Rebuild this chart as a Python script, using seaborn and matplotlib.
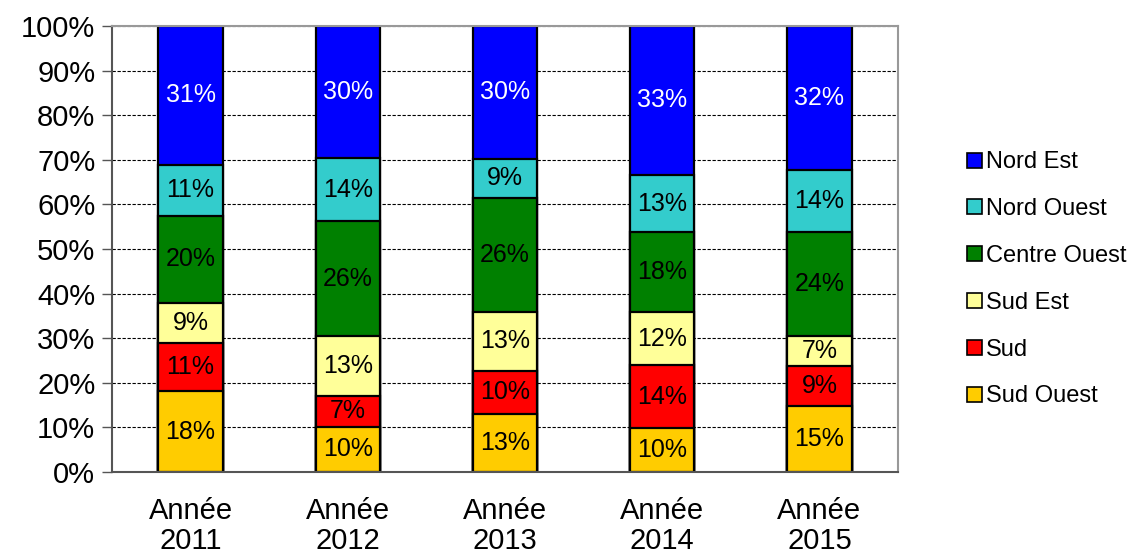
import matplotlib
matplotlib.use("Agg")
import matplotlib.pyplot as plt
from matplotlib.patches import Patch
import numpy as np
import pandas as pd
import seaborn as sns

years = ["Année\n2011", "Année\n2012", "Année\n2013", "Année\n2014", "Année\n2015"]

# bottom to top of each stack
regions = ["Sud Ouest", "Sud", "Sud Est", "Centre Ouest", "Nord Ouest", "Nord Est"]
sud_ouest = [18.1, 10.2, 13.1, 9.8, 14.9]
sud = [10.8, 6.8, 9.6, 14.1, 8.8]
sud_est = [9.0, 13.4, 13.2, 11.9, 6.7]
centre_ouest = [19.6, 25.8, 25.6, 17.9, 23.5]
nord_ouest = [11.4, 14.2, 8.7, 12.9, 13.8]
nord_est = [31.1, 29.6, 29.8, 33.4, 32.3]

colors = ["#FFCC00", "#FF0000", "#FFFF99", "#008000", "#33CCCC", "#0000FF"]
text_colors = ["black", "black", "black", "black", "black", "white"]

series = [sud_ouest, sud, sud_est, centre_ouest, nord_ouest, nord_est]
df = pd.DataFrame(dict(zip(regions, series)), index=years)
cum = df.cumsum(axis=1)

sns.set_style("white")
plt.rcParams["font.family"] = ["Liberation Sans", "DejaVu Sans"]
plt.rcParams["text.color"] = "black"
plt.rcParams["xtick.color"] = "black"
plt.rcParams["ytick.color"] = "black"

fig = plt.figure(figsize=(11.4, 5.56), dpi=100)
ax = fig.add_axes([112 / 1140, 84 / 556, 786 / 1140, 446 / 556])

# dashed grid behind the bars
ax.set_axisbelow(True)
ax.yaxis.grid(True, color="black", linestyle=(0, (3, 1.5)), linewidth=0.8)

# overlay cumulative bars, tallest first
for reg, col in reversed(list(zip(regions, colors))):
    sns.barplot(x=cum.index, y=cum[reg].values, color=col, width=0.41,
                edgecolor="black", linewidth=1.6, saturation=1, ax=ax, zorder=2)

# value labels
for i, yr in enumerate(years):
    bottom = 0
    for reg, tc in zip(regions, text_colors):
        v = df.loc[yr, reg]
        ax.text(i, bottom + v / 2, f"{v:.0f}%", ha="center", va="center",
                fontsize=18, color=tc, zorder=3)
        bottom += v

ax.set_ylim(0, 100)
ax.set_xlim(-0.5, 4.5)
ax.set_yticks(np.arange(0, 101, 10))
ax.set_yticklabels([f"{t}%" for t in range(0, 101, 10)])
ax.tick_params(axis="y", length=7, width=1, color="#555555", labelcolor="black",
               labelsize=21, pad=5, left=True)
ax.tick_params(axis="x", length=0, labelsize=21, labelcolor="black", pad=18)
for lab in ax.get_xticklabels():
    lab.set_linespacing(1.1)
ax.set_xlabel("")
ax.set_ylabel("")

for s in ["left", "bottom"]:
    ax.spines[s].set_color("#555555")
    ax.spines[s].set_linewidth(1.5)
for s in ["top", "right"]:
    ax.spines[s].set_visible(True)
    ax.spines[s].set_color("#999999")
    ax.spines[s].set_linewidth(1.5)

handles = [Patch(facecolor=c, edgecolor="black", linewidth=1.2, label=r)
           for r, c in zip(regions, colors)][::-1]
fig.legend(handles=handles, loc="upper left", bbox_to_anchor=(958 / 1140, 1 - 142 / 556),
           frameon=False, fontsize=17, handlelength=0.6, handleheight=0.6,
           handletextpad=0.2, labelspacing=1.05, borderaxespad=0)

fig.savefig("out.png", dpi=100)
